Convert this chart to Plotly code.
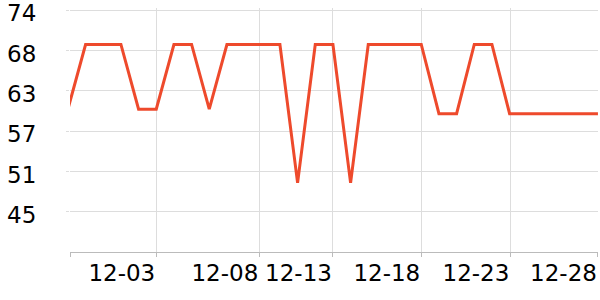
import plotly.graph_objects as go
import pandas as pd

dates = pd.date_range("2023-11-28", "2023-12-28", freq="D").strftime("%Y-%m-%d").tolist()
values = [59.9, 69.3, 69.3, 69.3, 59.9, 59.9, 69.3, 69.3, 59.9, 69.3,
          69.3, 69.3, 69.3, 49.2, 69.3, 69.3, 49.2, 69.3, 69.3, 69.3,
          69.3, 59.25, 59.25, 69.3, 69.3, 59.25, 59.25, 59.25, 59.25, 59.25, 59.25]

x_tickvals = ["2023-11-28 02:50", "2023-12-03 00:00", "2023-12-08 20:00",
              "2023-12-13 00:00", "2023-12-18 00:00", "2023-12-23 01:00", "2023-12-28 00:00"]
x_ticktext = ["", "12-03", "12-08", "12-13", "12-18", "12-23", "12-28"]

y_tickvals = [45.0, 50.85, 56.7, 62.55, 68.4, 74.25]
y_ticktext = ["45", "51", "57", "63", "68", "74"]
y_range = [39.15, 74.6]

fig = go.Figure()
fig.add_trace(go.Scatter(x=dates, y=values, mode="lines",
                         line=dict(color="#ee4a2c", width=3), hoverinfo="skip"))

fig.update_layout(
    width=600, height=300,
    margin=dict(l=70, r=2, t=8, b=48),
    paper_bgcolor="white", plot_bgcolor="white",
    showlegend=False,
    font=dict(family="DejaVu Sans", color="black"),
)
fig.update_xaxes(
    type="date",
    automargin=False,
    range=["2023-11-28 02:50", "2023-12-28 00:05"],
    tickvals=x_tickvals, ticktext=x_ticktext,
    tickangle=0,
    ticklabelposition="outside left",
    ticklabeloverflow="allow",
    showgrid=True, gridcolor="#dddddd", gridwidth=1,
    showline=True, linecolor="#bbbbbb", linewidth=1,
    ticks="outside", ticklen=4, tickcolor="#bbbbbb",
    tickfont=dict(size=23, family="DejaVu Sans", color="black"),
    zeroline=False,
)
fig.update_yaxes(
    automargin=False,
    range=y_range,
    tickvals=y_tickvals, ticktext=y_ticktext,
    ticklabeloverflow="allow",
    ticklabelshift=3,
    showgrid=True, gridcolor="#dddddd", gridwidth=1,
    showline=False,
    ticks="outside", ticklen=3, tickcolor="#dddddd",
    ticklabelstandoff=25,
    tickfont=dict(size=23, family="DejaVu Sans", color="black"),
    zeroline=False,
)

fig.write_html("out.html")
